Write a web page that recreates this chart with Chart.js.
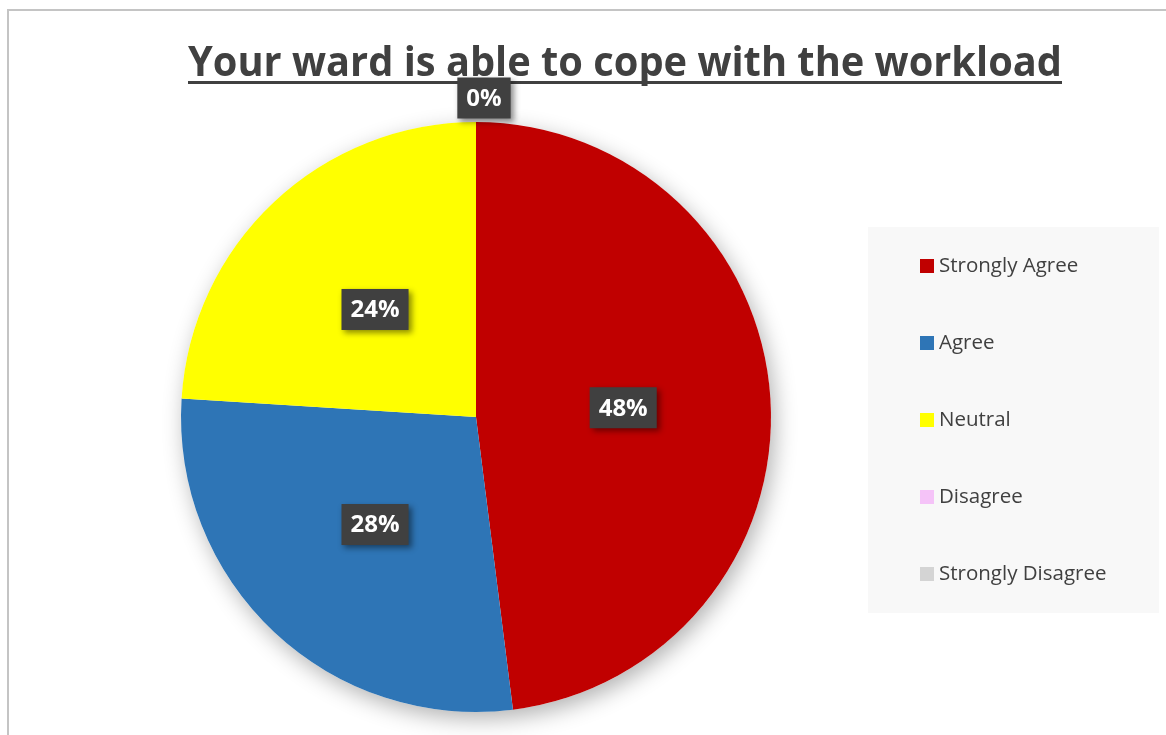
<!DOCTYPE html>
<html>
<head>
<meta charset="utf-8">
<script src="https://cdn.jsdelivr.net/npm/chart.js@4.4.1/dist/chart.umd.min.js"></script>
<style>
html, body { margin: 0; padding: 0; background: #fff; }
#wrap { position: relative; width: 1166px; height: 735px; overflow: hidden; }
#frame { position: absolute; left: 7px; top: 9px; width: 1200px; height: 800px; border-left: 2px solid #c4c4c4; border-top: 2px solid #c4c4c4; }
canvas { position: absolute; left: 0; top: 0; }
</style>
</head>
<body>
<div id="wrap">
  <div id="frame"></div>
  <canvas id="pie" width="1166" height="735"></canvas>
</div>
<script>
var titleText = 'Your ward is able to cope with the workload';
var categories = ['Strongly Agree', 'Agree', 'Neutral', 'Disagree', 'Strongly Disagree'];
var responses = [12, 7, 6, 0, 0];
var sliceColors = ['#c00000', '#2e75b6', '#ffff00', '#f5c3f8', '#d4d4d4'];

var textGrey = '#404040';

// underlined title, squeezed to the width of the original
var titlePlugin = {
    id: 'titleUnderline',
    beforeDraw: function (chart) {
        var ctx = chart.ctx;
        ctx.save();
        ctx.font = 'bold 42px "Open Sans"';
        ctx.fillStyle = textGrey;
        ctx.textAlign = 'center';
        ctx.textBaseline = 'alphabetic';
        ctx.fillText(titleText, 625, 76, 874);
        ctx.fillRect(188, 81, 874, 3);
        ctx.restore();
    }
};

// legend in a light grey panel on the right
var legendPlugin = {
    id: 'sideLegend',
    beforeDraw: function (chart) {
        var ctx = chart.ctx;
        ctx.save();
        ctx.fillStyle = '#f8f8f8';
        ctx.fillRect(868, 227, 291, 386);
        ctx.font = '20.5px "Open Sans"';
        ctx.textBaseline = 'middle';
        categories.forEach(function (name, i) {
            var y = 266 + i * 77;
            ctx.fillStyle = sliceColors[i];
            ctx.fillRect(920, y - 7, 14, 14);
            ctx.fillStyle = textGrey;
            ctx.fillText(name, 939, y);
        });
        ctx.restore();
    }
};

// soft drop shadow under the whole pie
var shadowPlugin = {
    id: 'pieShadow',
    beforeDatasetsDraw: function (chart) {
        var arc = chart.getDatasetMeta(0).data[0];
        var ctx = chart.ctx;
        ctx.save();
        ctx.shadowColor = 'rgba(0,0,0,0.3)';
        ctx.shadowBlur = 22;
        ctx.shadowOffsetX = 4;
        ctx.shadowOffsetY = 7;
        ctx.fillStyle = '#ffffff';
        ctx.beginPath();
        ctx.arc(arc.x, arc.y, arc.outerRadius, 0, Math.PI * 2);
        ctx.fill();
        ctx.restore();
    }
};

// percentage labels in dark boxes
var labelPlugin = {
    id: 'pctLabels',
    afterDatasetsDraw: function (chart) {
        var ctx = chart.ctx;
        var meta = chart.getDatasetMeta(0);
        var total = responses.reduce(function (a, b) { return a + b; }, 0);
        var zeroDone = false;
        ctx.save();
        ctx.font = 'bold 24px "Open Sans"';
        ctx.textAlign = 'center';
        ctx.textBaseline = 'middle';
        meta.data.forEach(function (arc, i) {
            var v = responses[i];
            var pos;
            if (v > 0) {
                pos = arc.tooltipPosition();
            } else {
                if (zeroDone) return;
                zeroDone = true;
                var ang = arc.startAngle;
                var d = arc.outerRadius + 24;
                pos = { x: arc.x + Math.cos(ang) * d + 8, y: arc.y + Math.sin(ang) * d };
            }
            var txt = Math.round(v / total * 100) + '%';
            var w = ctx.measureText(txt).width + 18;
            var h = 41;
            ctx.save();
            ctx.shadowColor = 'rgba(0,0,0,0.45)';
            ctx.shadowBlur = 6;
            ctx.shadowOffsetX = 3;
            ctx.shadowOffsetY = 3;
            ctx.fillStyle = '#404040';
            ctx.fillRect(pos.x - w / 2, pos.y - h / 2, w, h);
            ctx.restore();
            ctx.fillStyle = '#ffffff';
            ctx.fillText(txt, pos.x, pos.y + 1);
        });
        ctx.restore();
    }
};

var ctx = document.getElementById('pie').getContext('2d');
var wardChart = new Chart(ctx, {
    type: 'pie',
    data: {
        labels: categories,
        datasets: [{
            data: responses,
            backgroundColor: sliceColors,
            borderWidth: 0
        }]
    },
    options: {
        responsive: false,
        animation: false,
        layout: {
            padding: { left: 181, right: 395, top: 122, bottom: 23 }
        },
        plugins: {
            legend: { display: false },
            title: { display: false },
            tooltip: { enabled: false }
        }
    },
    plugins: [titlePlugin, legendPlugin, shadowPlugin, labelPlugin]
});
</script>
</body>
</html>
